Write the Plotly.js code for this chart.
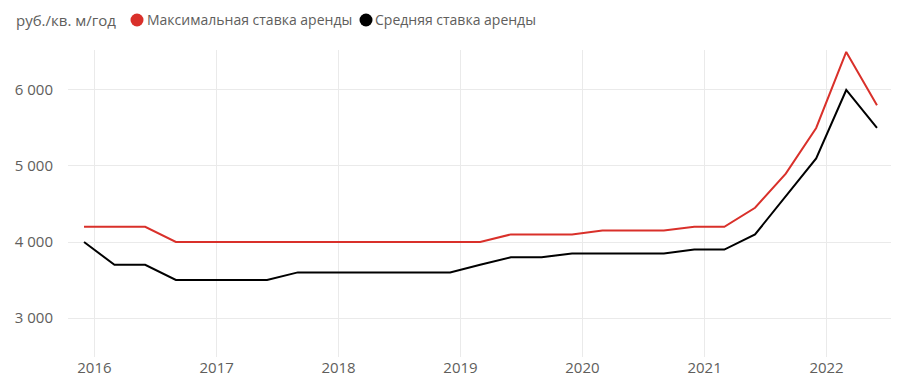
<!DOCTYPE html>
<html>
<head>
<meta charset="utf-8">
<script src="https://cdn.plot.ly/plotly-3.0.1.min.js"></script>
<style>html,body{margin:0;padding:0;background:#fff}#chart{width:915px;height:383px}</style>
</head>
<body>
<div id="chart"></div>
<script>
const dates = [
  '2015-12-01',
  '2016-03-01','2016-06-01','2016-09-01','2016-12-01',
  '2017-03-01','2017-06-01','2017-09-01','2017-12-01',
  '2018-03-01','2018-06-01','2018-09-01','2018-12-01',
  '2019-03-01','2019-06-01','2019-09-01','2019-12-01',
  '2020-03-01','2020-06-01','2020-09-01','2020-12-01',
  '2021-03-01','2021-06-01','2021-09-01','2021-12-01',
  '2022-03-01','2022-06-01'
];
const maxRent = [
  4200,
  4200,4200,4000,4000,
  4000,4000,4000,4000,
  4000,4000,4000,4000,
  4000,4100,4100,4100,
  4150,4150,4150,4200,
  4200,4450,4900,5500,
  6500,5800
];
const avgRent = [
  4000,
  3700,3700,3500,3500,
  3500,3500,3600,3600,
  3600,3600,3600,3600,
  3700,3800,3800,3850,
  3850,3850,3850,3900,
  3900,4100,4600,5100,
  6000,5500
];
const seriesNames = ['Максимальная ставка аренды','Средняя ставка аренды'];
const legendTitle = 'руб./кв. м/год';
const yTicks = [3000,4000,5000,6000];
const xTicks = ['2016-01-01','2017-01-01','2018-01-01','2019-01-01','2020-01-01','2021-01-01','2022-01-01'];
const xTickText = ['2016','2017','2018','2019','2020','2021','2022'];

const RED = '#D9302A', BLACK = '#000000', GREY = '#605E5C';
const font = '"Open Sans", sans-serif';

// plot-area geometry (pixels)
const W = 915, H = 383, L = 68, R = 24, T = 50, B = 26;
const pw = W - L - R, ph = H - T - B;
const px = v => (v - L) / pw;          // pixel x -> paper x
const py = v => (H - B - v) / ph;      // pixel y -> paper y
const legendY = 20;

const traces = [
  {x: dates, y: maxRent, type:'scatter', mode:'lines', name: seriesNames[0],
   line:{color:RED, width:2}, showlegend:false},
  {x: dates, y: avgRent, type:'scatter', mode:'lines', name: seriesNames[1],
   line:{color:BLACK, width:2}, showlegend:false}
];

const legendItems = [
  {color: RED,   dot: 137, text: 145, label: seriesNames[0]},
  {color: BLACK, dot: 366, text: 373, label: seriesNames[1]}
];

const annotations = [
  {xref:'paper', yref:'paper', x: px(14), y: py(legendY), xanchor:'left', yanchor:'middle',
   text: legendTitle, showarrow:false, font:{family:font, size:15, color:GREY}}
].concat(legendItems.map(it => ({
  xref:'paper', yref:'paper', x: px(it.text), y: py(legendY), xanchor:'left', yanchor:'middle',
  text: it.label, showarrow:false, font:{family:font, size:14, color:GREY}
})));

const shapes = legendItems.map(it => ({
  type:'circle', xref:'paper', yref:'paper',
  xsizemode:'pixel', ysizemode:'pixel',
  xanchor: px(it.dot), yanchor: py(legendY),
  x0:-6.5, x1:6.5, y0:-6.5, y1:6.5,
  fillcolor: it.color, line:{width:0}
}));

const layout = {
  width: W, height: H,
  margin: {l:L, r:R, t:T, b:B},
  paper_bgcolor:'#fff', plot_bgcolor:'#fff',
  separators: ', ',
  font: {family: font, size: 15, color: GREY},
  showlegend: false,
  annotations, shapes,
  xaxis: {
    type:'date', range:['2015-10-14','2022-07-13'],
    tickvals: xTicks, ticktext: xTickText,
    showgrid:true, gridcolor:'#EAEAEA', gridwidth:1,
    zeroline:false, showline:false, ticks:'',
    tickfont:{family:font, size:15, color:GREY}
  },
  yaxis: {
    range:[2487, 6526],
    tickvals: yTicks, tickformat:',d',
    showgrid:true, gridcolor:'#EAEAEA', gridwidth:1,
    zeroline:false, showline:false, ticks:'',
    ticklabelstandoff: 14,
    tickfont:{family:font, size:15, color:GREY}
  }
};

Plotly.newPlot('chart', traces, layout, {displayModeBar:false, staticPlot:true});
</script>
</body>
</html>
